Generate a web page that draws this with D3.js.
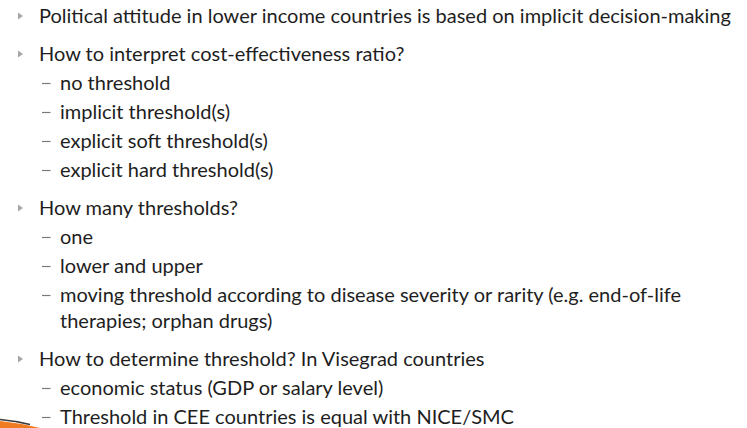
<!DOCTYPE html>
<html>
<head>
<meta charset="utf-8">
<style>
    body {
        margin: 0;
        background: white;
    }
    svg text {
        font-family: Lato, "Open Sans", sans-serif;
        fill: #1e1e1e;
    }
</style>
</head>
<body>
<svg id="slide" width="747" height="428"></svg>
<script src="https://d3js.org/d3.v7.min.js"></script>
<script>
// slide content: one heading per main bullet, sub points below it
var headings = [
    "Political attitude in lower income countries is based on implicit decision-making",
    "How to interpret cost-effectiveness ratio?",
    "How many thresholds?",
    "How to determine threshold? In Visegrad countries"
];
var subPoints = [
    [],
    [["no threshold"], ["implicit threshold(s)"], ["explicit soft threshold(s)"], ["explicit hard threshold(s)"]],
    [["one"], ["lower and upper"], ["moving threshold according to disease severity or rarity (e.g. end-of-life", "therapies; orphan drugs)"]],
    [["economic status (GDP or salary level)"], ["Threshold in CEE countries is equal with NICE/SMC"]]
];

var W = 747, H = 428;
var fontSize = 20;
var firstBaseline = 23;
var mainGap = 38, subGap = 29, wrapGap = 26;

// flatten into lines with a y position
var rows = [];
var y = firstBaseline;
headings.forEach(function(h, i) {
    if (i > 0) y += mainGap;
    rows.push({ level: 0, text: h, y: y, first: true });
    subPoints[i].forEach(function(lines) {
        lines.forEach(function(t, j) {
            y += (j == 0) ? subGap : wrapGap;
            rows.push({ level: 1, text: t, y: y, first: j == 0 });
        });
    });
});

var svg = d3.select("#slide");

var row = svg.selectAll("g.row")
    .data(rows)
    .enter().append("g")
    .attr("class", "row")
    .attr("transform", function(d) { return "translate(0," + d.y + ")"; });

// grey triangle for main bullets
row.filter(function(d) { return d.level == 0; })
    .append("path")
    .attr("d", "M18,-10.5 L23,-7 L18,-3.5 Z")
    .attr("fill", "#a6a6a6");

// dash for sub points
row.filter(function(d) { return d.level == 1 && d.first; })
    .append("line")
    .attr("x1", 42).attr("x2", 50.5)
    .attr("y1", -6.5).attr("y2", -6.5)
    .attr("stroke", "#7a7a7a")
    .attr("stroke-width", 1.2);

row.append("text")
    .attr("x", function(d) { return d.level == 0 ? 39 : 60; })
    .attr("font-size", fontSize)
    .text(function(d) { return d.text; });

// orange swoosh in the bottom-left corner
svg.append("path")
    .attr("d", "M0,421 Q20,423 40,428 L0,428 Z")
    .attr("fill", "#f07c22");
svg.append("path")
    .attr("d", "M0,419.5 Q16,421 30,424.5")
    .attr("fill", "none")
    .attr("stroke", "#3a3a3a")
    .attr("stroke-width", 1.5);
</script>
</body>
</html>
